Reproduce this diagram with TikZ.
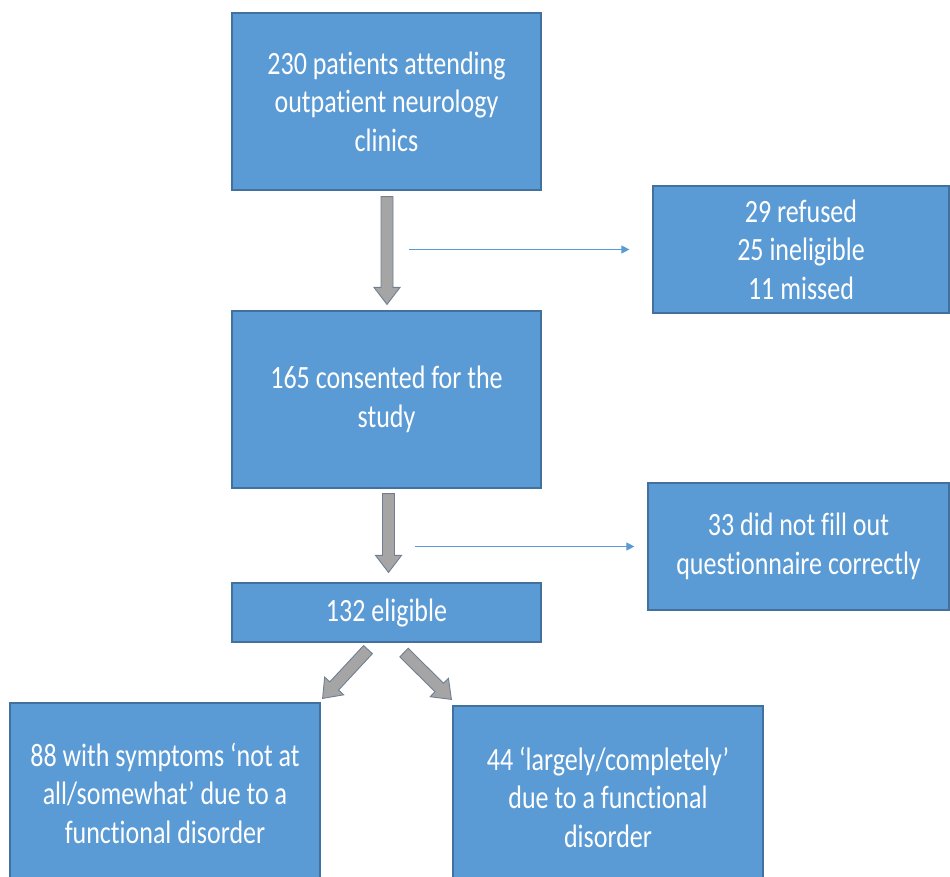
\documentclass[tikz,border=0pt]{standalone}
\usepackage{fontspec}
\setmainfont[Ligatures=NoCommon, FakeStretch=0.8]{Carlito}
\usetikzlibrary{calc,arrows.meta}
\definecolor{boxblue}{HTML}{5B9BD5}
\definecolor{boxedge}{HTML}{41719C}
\definecolor{garrow}{HTML}{A5A5A5}
\definecolor{garrowedge}{HTML}{6F7F91}
\newcommand\blockarrow[2]{%
  \coordinate (bah) at ($(#2)!17pt!(#1)$);
  \draw[barrow] ($(#1)!6pt!90:(#2)$) -- ($(bah)!6pt!-90:(#1)$) -- ($(bah)!13pt!-90:(#1)$) -- (#2)
     -- ($(bah)!13pt!90:(#1)$) -- ($(bah)!6pt!90:(#1)$) -- ($(#1)!6pt!-90:(#2)$) -- cycle;}
\begin{document}
\begin{tikzpicture}[x=1pt,y=-1pt,
  bluebox/.style={draw=boxedge, line width=1.2pt, fill=boxblue, text=white, inner sep=0pt,
    align=center, font=\fontsize{32.5}{38.5}\selectfont},
  barrow/.style={draw=garrowedge, fill=garrow, line width=0.9pt, line join=miter},
  thinarrow/.style={draw=boxblue, line width=1.1pt, -{Triangle[width=8pt,length=8pt]}}]
\useasboundingbox (0,0) rectangle (950,876);
\begin{scope}
\clip (0,0) rectangle (950,876);
\node[bluebox, minimum width=309pt, minimum height=177pt] (n1) at (386.5,101.5)
  {230 patients attending\\outpatient neurology\\clinics};
\node[bluebox, minimum width=296pt, minimum height=127pt] (ref) at (801,249.5)
  {29 refused\\25 ineligible\\11 missed};
\node[bluebox, minimum width=309pt, minimum height=177pt] (n165) at (386.5,399.5)
  {165 consented for the\\study};
\node[bluebox, minimum width=301pt, minimum height=127pt] (q33) at (798.5,546.5)
  {33 did not fill out\\questionnaire correctly};
\node[bluebox, minimum width=309pt, minimum height=59pt] (n132) at (386.5,612.5)
  {132 eligible};
\node[bluebox, minimum width=310pt, minimum height=180pt] (n88) at (165,793)
  {88 with symptoms ‘not at\\all/somewhat’ due to a\\functional disorder};
\node[bluebox, minimum width=310pt, minimum height=182pt] (n44) at (608,797)
  {44 ‘largely/completely’\\due to a functional\\disorder};
\end{scope}
% block arrows
\coordinate (a1s) at ($(n1.south)+(0.5,6)$);
\coordinate (a1t) at ($(n165.north)+(0.5,-6)$);
\blockarrow{a1s}{a1t}
\coordinate (a2s) at ($(n165.south)+(2,5)$);
\coordinate (a2t) at ($(n132.north)+(2,-10)$);
\blockarrow{a2s}{a2t}
\coordinate (a3s) at ($(n132.south)+(-18.5,7)$);
\coordinate (a3t) at ($(n88.north east)+(2,-4)$);
\blockarrow{a3s}{a3t}
\coordinate (a4s) at ($(n132.south)+(17.5,10)$);
\coordinate (a4t) at ($(n44.north west)+(-1,-6)$);
\blockarrow{a4s}{a4t}
% thin arrows
\coordinate (t1) at (409,249.5);
\draw[thinarrow] (t1) -- ($(ref.west)+(-23,0)$);
\coordinate (t2) at (415,546.5);
\draw[thinarrow] (t2) -- ($(q33.west)+(-13,0)$);
\end{tikzpicture}
\end{document}
